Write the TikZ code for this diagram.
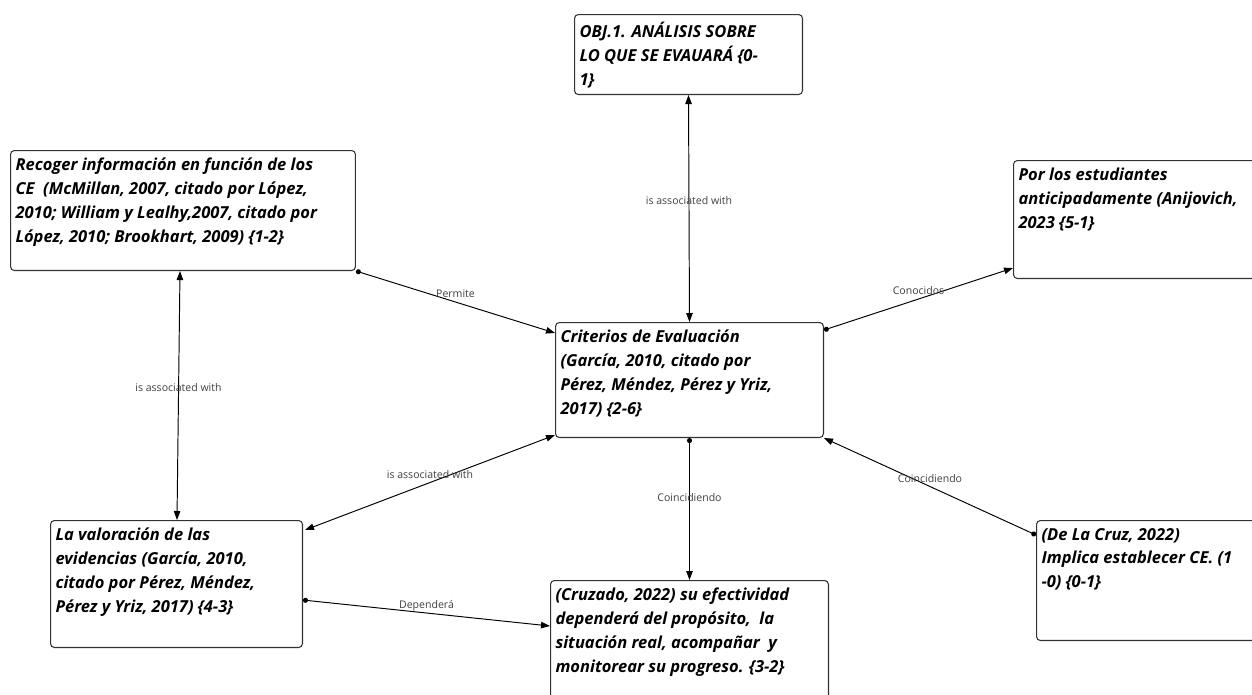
\documentclass[tikz,border=0pt]{standalone}
\usepackage{fontspec}
\setmainfont{Open Sans}
\usetikzlibrary{arrows.meta,positioning,calc}
\newcommand{\caja}[3]{\parbox[t][#2][t]{#1}{\raggedright #3}}

\begin{document}
\begin{tikzpicture}[
    x=0.02cm, y=-0.02cm,
    >={Triangle[length=1.8mm, width=1.3mm]},
    pto/.tip={Circle[length=1mm]},
    concepto/.style={draw=black!80, line width=0.6pt, rounded corners=2.2pt, anchor=north west,
      inner xsep=0.1cm, inner ysep=0.15cm, font=\bfseries\itshape\fontsize{9.4}{13.6}\selectfont},
    rel/.style={line width=0.55pt},
    lbl/.style={font=\fontsize{6}{7}\selectfont, text=black!75, anchor=base, yshift=2.5pt, inner sep=0pt},
  ]
  \useasboundingbox (0,0) rectangle (1252,694);

  % ---------------- conceptos
  \node[concepto] (obj) at (574,14)
       {\caja{4.36cm}{1.3cm}{OBJ.1. ANÁLISIS SOBRE\\LO QUE SE EVAUARÁ \{0-\\1\}}};
  \node[concepto] (rec) at (10,150)
       {\caja{6.7cm}{2.1cm}{Recoger información en función de los\\CE\ \ (McMillan, 2007, citado por López,\\2010; William y Lealhy,2007, citado por\\López, 2010; Brookhart, 2009) \{1-2\}}};
  \node[concepto] (por) at (1013,160)
       {\caja{5.0cm}{2.06cm}{Por los estudiantes\\anticipadamente (Anijovich,\\2023 \{5-1\}}};
  \node[concepto] (crit) at (555,322)
       {\caja{5.16cm}{2.0cm}{Criterios de Evaluación\\(García, 2010, citado por\\Pérez, Méndez, Pérez y Yriz,\\2017) \{2-6\}}};
  \node[concepto] (val) at (50,520)
       {\caja{4.84cm}{2.24cm}{La valoración de las\\evidencias (García, 2010,\\citado por Pérez, Méndez,\\Pérez y Yriz, 2017) \{4-3\}}};
  \node[concepto] (cruz) at (550,580)
       {\caja{5.36cm}{2.3cm}{(Cruzado, 2022) su efectividad\\dependerá del propósito,\ \ la\\situación real, acompañar\ \ y\\monitorear su progreso. \{3-2\}}};
  \node[concepto] (dlc) at (1036,520)
       {\caja{4.4cm}{2.1cm}{(De La Cruz, 2022)\\Implica establecer CE. (1\\-0) \{0-1\}}};

  % ---------------- relaciones
  \draw[rel,<->] (obj.south) -- node[lbl] {is associated with} (crit.north);
  \draw[rel,pto->] (rec.south east) -- node[lbl] {Permite} ($(crit.north west)+(0,11)$);
  \draw[rel,<->] ($(rec.south west)+(170,0)$) -- node[lbl] {is associated with} ($(val.north west)+(127,0)$);
  \draw[rel,<->] ($(val.north east)+(2,10)$) -- node[lbl] {is associated with} ($(crit.south west)+(0,-3)$);
  \draw[rel,pto->] (crit.south) -- node[lbl, pos=0.48] {Coincidiendo} (cruz.north);
  \draw[rel,pto->] ($(val.east)+(0,16)$) -- node[lbl] {Dependerá} ($(cruz.north west)+(0,46)$);
  \draw[rel,pto->] ($(crit.north east)+(0,8)$) -- node[lbl] {Conocidos} ($(por.south west)+(0,-11)$);
  \draw[rel,pto->] ($(dlc.north west)+(0,15)$) -- node[lbl] {Coincidiendo} (crit.south east);
\end{tikzpicture}
\end{document}
